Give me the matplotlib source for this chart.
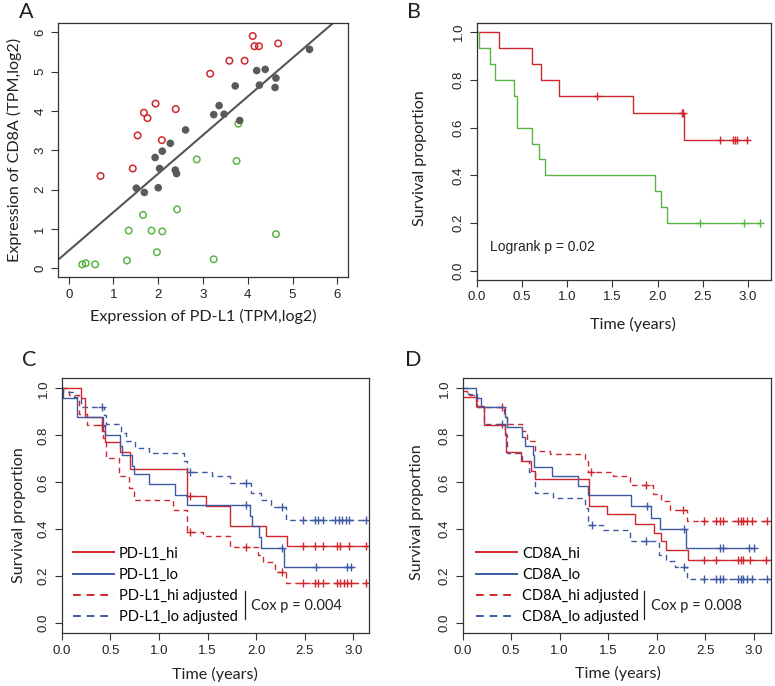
import numpy as np
import matplotlib
matplotlib.use("Agg")
import matplotlib.pyplot as plt
from matplotlib.lines import Line2D

# ---------------- data ----------------
# Panel A: scatter of PD-L1 vs CD8A expression
A_RED_X = [4.11, 4.15, 4.25, 4.68, 3.59, 3.93, 3.16, 1.94, 2.39, 1.68, 1.76, 1.54, 2.08, 1.43, 0.71]
A_RED_Y = [5.91, 5.65, 5.65, 5.72, 5.28, 5.28, 4.95, 4.19, 4.05, 3.96, 3.82, 3.38, 3.26, 2.54, 2.35]
A_GRAY_X = [5.38, 4.20, 4.39, 4.63, 4.26, 4.61, 3.72, 3.36, 3.24, 3.47, 3.82, 2.61, 2.27, 2.09,
            1.93, 2.03, 2.38, 2.41, 1.51, 1.69, 2.00]
A_GRAY_Y = [5.57, 5.03, 5.06, 4.84, 4.66, 4.60, 4.64, 4.14, 3.91, 3.92, 3.76, 3.52, 3.18, 2.98,
            2.82, 2.54, 2.50, 2.41, 2.04, 1.93, 2.05]
A_GREEN_X = [3.79, 2.86, 3.75, 2.42, 1.66, 1.34, 1.85, 2.09, 4.63, 1.97, 1.30, 3.24, 0.30, 0.38, 0.59]
A_GREEN_Y = [3.68, 2.77, 2.73, 1.50, 1.36, 0.96, 0.96, 0.94, 0.87, 0.41, 0.20, 0.23, 0.10, 0.13, 0.10]
REG_INTERCEPT = 0.45
REG_SLOPE = 0.98
A_TICKS = [0, 1, 2, 3, 4, 5, 6]

# Panel B: Kaplan-Meier curves
B_HI_T = [0.0, 0.25, 0.61, 0.71, 0.91, 1.73, 2.29]
B_HI_S = [1.0, 0.933, 0.867, 0.80, 0.733, 0.66, 0.55]
B_HI_END = 3.0
B_HI_CENS = [1.33, 2.27, 2.28, 2.69, 2.83, 2.86, 2.88, 2.99]
B_LO_T = [0.0, 0.02, 0.15, 0.20, 0.41, 0.45, 0.61, 0.69, 0.75, 1.97, 2.04, 2.10]
B_LO_S = [1.0, 0.933, 0.867, 0.80, 0.733, 0.60, 0.533, 0.467, 0.40, 0.333, 0.267, 0.20]
B_LO_END = 3.13
B_LO_CENS = [2.47, 2.96, 3.13]

# Panel C
C_HI_T = [0.0, 0.20, 0.244, 0.415, 0.45, 0.595, 0.70, 1.29, 1.48, 1.73, 2.10, 2.32]
C_HI_S = [1.0, 0.96, 0.88, 0.82, 0.77, 0.73, 0.655, 0.54, 0.50, 0.414, 0.372, 0.33]
C_HI_END = 3.14
C_HI_CENS = [1.32, 2.48, 2.60, 2.69, 2.83, 2.86, 2.95, 3.13]
C_LO_T = [0.0, 0.01, 0.155, 0.42, 0.45, 0.595, 0.62, 0.72, 0.74, 0.90, 1.17, 1.29, 1.94, 1.96, 2.03,
          2.05, 2.29]
C_LO_S = [1.0, 0.96, 0.88, 0.84, 0.80, 0.755, 0.715, 0.67, 0.634, 0.592, 0.546, 0.504, 0.455, 0.414,
          0.368, 0.32, 0.24]
C_LO_END = 3.0
C_LO_CENS = [1.90, 2.27, 2.62, 2.93, 2.98]
C_HIA_T = [0.0, 0.08, 0.18, 0.26, 0.42, 0.455, 0.59, 0.69, 0.74, 1.14, 1.29, 1.45, 1.73, 2.02,
           2.07, 2.19, 2.31]
C_HIA_S = [1.0, 0.97, 0.89, 0.845, 0.79, 0.705, 0.625, 0.574, 0.525, 0.48, 0.39, 0.37, 0.326,
           0.29, 0.26, 0.22, 0.17]
C_HIA_END = 3.14
C_HIA_CENS = [0.41, 1.32, 1.90, 2.27, 2.48, 2.60, 2.64, 2.69, 2.83, 2.86, 2.90, 2.93, 2.97, 3.13]
C_LOA_T = [0.0, 0.01, 0.13, 0.20, 0.43, 0.46, 0.61, 0.66, 0.75, 0.90, 1.26, 1.29, 1.55, 1.73,
           1.95, 2.05, 2.15, 2.31]
C_LOA_S = [1.0, 0.985, 0.965, 0.922, 0.885, 0.85, 0.81, 0.775, 0.745, 0.726, 0.69, 0.645, 0.625,
           0.596, 0.555, 0.525, 0.496, 0.44]
C_LOA_END = 3.14
C_LOA_CENS = [0.41, 1.32, 1.90, 2.27, 2.48, 2.60, 2.64, 2.69, 2.81, 2.85, 2.88, 2.92, 2.95, 3.13]

# Panel D
D_HI_T = [0.0, 0.14, 0.22, 0.44, 0.45, 0.60, 0.70, 0.75, 1.30, 1.49, 1.78, 1.97, 2.05, 2.10, 2.32]
D_HI_S = [0.962, 0.923, 0.846, 0.81, 0.73, 0.69, 0.65, 0.615, 0.50, 0.463, 0.423, 0.385, 0.35,
          0.31, 0.27]
D_HI_END = 3.17
D_HI_CENS = [2.49, 2.61, 2.84, 2.87, 2.89, 2.96, 3.13]
D_LO_T = [0.0, 0.14, 0.19, 0.44, 0.46, 0.61, 0.64, 0.72, 0.74, 0.92, 1.19, 1.29, 1.74, 1.94,
          2.03, 2.30]
D_LO_S = [1.0, 0.96, 0.92, 0.88, 0.837, 0.795, 0.755, 0.715, 0.667, 0.625, 0.585, 0.547, 0.50,
          0.448, 0.40, 0.32]
D_LO_END = 3.02
D_LO_CENS = [1.90, 2.28, 2.65, 2.69, 2.95, 3.00]
D_HIA_T = [0.0, 0.04, 0.15, 0.43, 0.46, 0.61, 0.66, 0.75, 0.90, 1.26, 1.29, 1.55, 1.73, 1.96,
           2.05, 2.14, 2.31]
D_HIA_S = [0.99, 0.97, 0.92, 0.88, 0.85, 0.82, 0.775, 0.735, 0.72, 0.69, 0.642, 0.625, 0.59,
           0.55, 0.52, 0.484, 0.434]
D_HIA_END = 3.17
D_HIA_CENS = [0.41, 1.32, 1.89, 2.27, 2.49, 2.61, 2.65, 2.68, 2.84, 2.87, 2.89, 2.93, 2.98, 3.14]
D_LOA_T = [0.0, 0.05, 0.15, 0.22, 0.44, 0.46, 0.61, 0.68, 0.75, 0.93, 1.26, 1.29, 1.45, 1.73,
           2.02, 2.10, 2.19, 2.31]
D_LOA_S = [1.0, 0.975, 0.92, 0.847, 0.80, 0.724, 0.69, 0.646, 0.555, 0.533, 0.49, 0.42, 0.395,
           0.35, 0.29, 0.265, 0.24, 0.19]
D_LOA_END = 3.17
D_LOA_CENS = [0.41, 1.33, 1.89, 2.28, 2.49, 2.61, 2.65, 2.68, 2.84, 2.87, 2.89, 2.93, 2.98, 3.14]

SURV_YTICKS = [0.0, 0.2, 0.4, 0.6, 0.8, 1.0]
SURV_XTICKS = [0.0, 0.5, 1.0, 1.5, 2.0, 2.5, 3.0]

C_LABELS = ["PD-L1_hi", "PD-L1_lo", "PD-L1_hi adjusted", "PD-L1_lo adjusted"]
D_LABELS = ["CD8A_hi", "CD8A_lo", "CD8A_hi adjusted", "CD8A_lo adjusted"]

# ---------------- style ----------------
RED = "#d0262d"
BLUE = "#3d5aa2"
GREEN = "#5cb446"
GRAY = "#5a5a5a"
TICKFONT = "Liberation Sans"
LABFONT = "Lato"
DASH = (0, (4, 3))

W, H = 775, 686
fig = plt.figure(figsize=(W / 100, H / 100), dpi=100)


def px_axes(x0, y0, x1, y1):
    return fig.add_axes([x0 / W, 1 - y1 / H, (x1 - x0) / W, (y1 - y0) / H])


def style_axes(ax, xticks, yticks, fmt):
    for sp in ax.spines.values():
        sp.set_linewidth(0.9)
        sp.set_color("#333333")
    ax.set_xticks(xticks)
    ax.set_yticks(yticks)
    ax.set_xticklabels([fmt.format(v) for v in xticks])
    ax.set_yticklabels([fmt.format(v) for v in yticks], rotation=90, va="center")
    ax.tick_params(direction="out", length=5, width=0.8, pad=3.5, labelsize=9.5,
                   color="#333333", labelcolor="#222222")
    for lbl in ax.get_xticklabels() + ax.get_yticklabels():
        lbl.set_fontfamily(TICKFONT)


def set_labels(ax, xl, yl, xpos, ypos):
    ax.set_xlabel(xl, fontfamily=LABFONT, fontsize=11.6, color="#222222")
    ax.set_ylabel(yl, fontfamily=LABFONT, fontsize=11.6, color="#222222")
    ax.xaxis.set_label_coords(*xpos)
    ax.yaxis.set_label_coords(*ypos)
    ax.xaxis.label.set_va("center")
    ax.yaxis.label.set_va("center")


def km(ax, T, S, tend, cens, color, ls):
    t = list(T) + [tend]
    s = list(S) + [S[-1]]
    ax.step(t, s, where="post", color=color, lw=1.0, linestyle=ls)
    T_arr = np.asarray(T)
    cy = [S[int(np.searchsorted(T_arr, c, side="right")) - 1] for c in cens]
    ax.plot(cens, cy, linestyle="none", marker="+", color=color, ms=5.2, mew=1.0)


# ---------------- Panel A ----------------
axA = px_axes(58, 23, 348, 277)
axA.scatter(A_RED_X, A_RED_Y, s=22, facecolors="none", edgecolors=RED, linewidths=1.1, zorder=3)
axA.scatter(A_GREEN_X, A_GREEN_Y, s=22, facecolors="none", edgecolors=GREEN, linewidths=1.1, zorder=3)
axA.scatter(A_GRAY_X, A_GRAY_Y, s=30, color=GRAY, edgecolors="none", zorder=3)
axA.axline((0, REG_INTERCEPT), slope=REG_SLOPE, color="#555555", lw=1.5, zorder=2)
axA.set_xlim(-0.24, 6.24)
axA.set_ylim(-0.22, 6.24)
style_axes(axA, A_TICKS, A_TICKS, "{:d}")
set_labels(axA, "Expression of PD-L1 (TPM,log2)", "Expression of CD8A (TPM,log2)",
           (0.5, -0.157), (-0.15, 0.5))

# ---------------- Panel B ----------------
axB = px_axes(476.7, 22.7, 770.5, 279.5)
km(axB, B_HI_T, B_HI_S, B_HI_END, B_HI_CENS, RED, "-")
km(axB, B_LO_T, B_LO_S, B_LO_END, B_LO_CENS, GREEN, "-")
axB.set_xlim(0, 3.25)
axB.set_ylim(-0.036, 1.04)
style_axes(axB, SURV_XTICKS, SURV_YTICKS, "{:.1f}")
set_labels(axB, "Time (years)", "Survival proportion", (0.533, -0.175), (-0.194, 0.473))
axB.text(0.046, 0.126, "Logrank p = 0.02", transform=axB.transAxes, fontfamily=TICKFONT,
         fontsize=10, va="center", ha="left", color="#222222")


def legend_panel(ax, labels, lx, cox_text, sep_x):
    handles = [Line2D([], [], color=RED, lw=1.4, ls="-"),
               Line2D([], [], color=BLUE, lw=1.4, ls="-"),
               Line2D([], [], color=RED, lw=1.4, ls=DASH),
               Line2D([], [], color=BLUE, lw=1.4, ls=DASH)]
    ax.legend(handles, labels, loc="lower left", bbox_to_anchor=(lx, 0.035),
              frameon=False, borderaxespad=0, borderpad=0, handlelength=2.8,
              handletextpad=0.35, labelspacing=0.5,
              prop={"family": LABFONT, "size": 10.5})
    ax.plot([sep_x, sep_x], [0.058, 0.164], transform=ax.transAxes, color="#222222", lw=0.9)
    ax.text(sep_x + 0.022, 0.108, cox_text, transform=ax.transAxes, fontfamily=LABFONT,
            fontsize=10.5, va="center", ha="left", color="#222222")


# ---------------- Panel C ----------------
axC = px_axes(61.7, 378.3, 369, 633.3)
km(axC, C_HIA_T, C_HIA_S, C_HIA_END, C_HIA_CENS, RED, DASH)
km(axC, C_LOA_T, C_LOA_S, C_LOA_END, C_LOA_CENS, BLUE, DASH)
km(axC, C_HI_T, C_HI_S, C_HI_END, C_HI_CENS, RED, "-")
km(axC, C_LO_T, C_LO_S, C_LO_END, C_LO_CENS, BLUE, "-")
axC.set_xlim(0, 3.16)
axC.set_ylim(-0.043, 1.043)
style_axes(axC, SURV_XTICKS, SURV_YTICKS, "{:.1f}")
set_labels(axC, "Time (years)", "Survival proportion", (0.5, -0.161), (-0.138, 0.464))
legend_panel(axC, C_LABELS, 0.036, "Cox p = 0.004", 0.595)

# ---------------- Panel D ----------------
axD = px_axes(462.7, 378.3, 771, 633.3)
km(axD, D_HIA_T, D_HIA_S, D_HIA_END, D_HIA_CENS, RED, DASH)
km(axD, D_LOA_T, D_LOA_S, D_LOA_END, D_LOA_CENS, BLUE, DASH)
km(axD, D_HI_T, D_HI_S, D_HI_END, D_HI_CENS, RED, "-")
km(axD, D_LO_T, D_LO_S, D_LO_END, D_LO_CENS, BLUE, "-")
axD.set_xlim(0, 3.18)
axD.set_ylim(-0.043, 1.043)
style_axes(axD, SURV_XTICKS, SURV_YTICKS, "{:.1f}")
set_labels(axD, "Time (years)", "Survival proportion", (0.505, -0.158), (-0.149, 0.477))
legend_panel(axD, D_LABELS, 0.043, "Cox p = 0.008", 0.588)

# panel letters
for letter, (x, y) in {"A": (25.8, 12.5), "B": (413.7, 12.2), "C": (29.5, 359.5),
                       "D": (413.3, 359.5)}.items():
    fig.text(x / W, 1 - y / H, letter, fontfamily=LABFONT, fontsize=15.5, ha="center",
             va="center", color="#222222")

fig.savefig("out.png", dpi=100)
